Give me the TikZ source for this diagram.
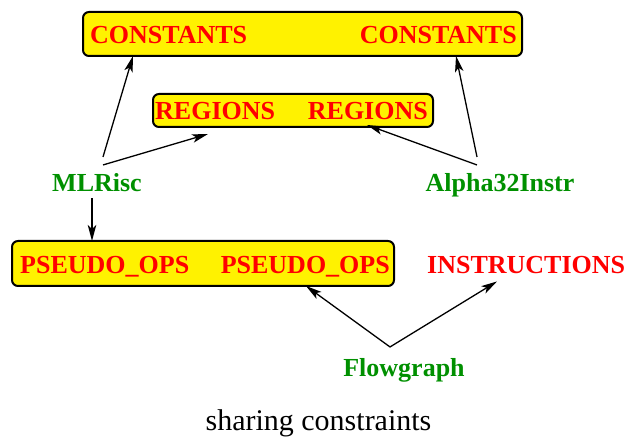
\documentclass[tikz,border=0pt]{standalone}
\usepackage{fontspec}
\setmainfont{Liberation Serif}
\usetikzlibrary{arrows.meta}
\definecolor{structred}{RGB}{255,0,0}
\definecolor{modgreen}{RGB}{0,144,0}
\begin{document}
\begin{tikzpicture}[x=1pt,y=1pt,
  group/.style={draw=black, line width=2pt, fill=yellow, rounded corners=6pt, inner sep=0pt, outer sep=0pt},
  struct/.style={text=structred, font=\fontsize{26}{30}\selectfont\bfseries, inner sep=0pt},
  module/.style={text=modgreen, font=\fontsize{26}{30}\selectfont\bfseries, inner sep=0pt, outer sep=0pt, anchor=base},
  tip/.tip={Stealth[length=16pt,width=8.5pt,inset=4pt]},
  link/.style={line width=1.3pt, -tip},
  twolink/.style={line width=1.3pt, tip-tip}]
\useasboundingbox (0,0) rectangle (628,436);

% shared groups
\node[group, minimum width=439pt, minimum height=44pt] (cbox) at (302.5,402) {};
\node[group, minimum width=280pt, minimum height=33pt] (rbox) at (293,325.5) {};
\node[group, minimum width=382pt, minimum height=45pt] (pbox) at (203,172.5) {};

% structure names
\node[struct, anchor=base west] (c1) at (90,392) {CONSTANTS};
\node[struct, anchor=base east] (c2) at (517,392) {CONSTANTS};
\node[struct, anchor=base west] (r1) at (155,316) {REGIONS};
\node[struct, anchor=base east] (r2) at (428,316) {REGIONS};
\node[struct, anchor=base west] (p1) at (20,162) {PSEUDO\_OPS};
\node[struct, anchor=base east] (p2) at (390,162) {PSEUDO\_OPS};
\node[struct, anchor=base west] (instr) at (427,162) {INSTRUCTIONS};

% modules
\node[module] (mlrisc) at (97,244) {MLRisc};
\node[module] (alpha) at (500,244) {Alpha32Instr};
\node[module] (flow) at (404,60) {Flowgraph};

% caption
\node[inner sep=0pt, anchor=base, font=\fontsize{30}{34}\selectfont] (cap) at (318.5,6) {sharing constraints};

% connections
\draw[link] ([xshift=6pt,yshift=17pt]mlrisc.north) -- ([xshift=50pt]cbox.south west);
\draw[link] ([xshift=6pt,yshift=9pt]mlrisc.north) -- ([xshift=55pt,yshift=-7pt]rbox.south west);
\draw[link] ([xshift=-5pt,yshift=-6pt]mlrisc.south) -- ([xshift=80pt]pbox.north west);
\draw[link] ([xshift=-23pt,yshift=17pt]alpha.north) -- ([xshift=-66pt]cbox.south east);
\draw[link] ([xshift=-23pt,yshift=9pt]alpha.north) -- ([xshift=-66pt,yshift=2pt]rbox.south east);
\draw[twolink] ([xshift=-88pt]pbox.south east) -- ([xshift=-14pt,yshift=11pt]flow.north) -- ([xshift=70pt,yshift=-7pt]instr.south west);
\end{tikzpicture}
\end{document}
